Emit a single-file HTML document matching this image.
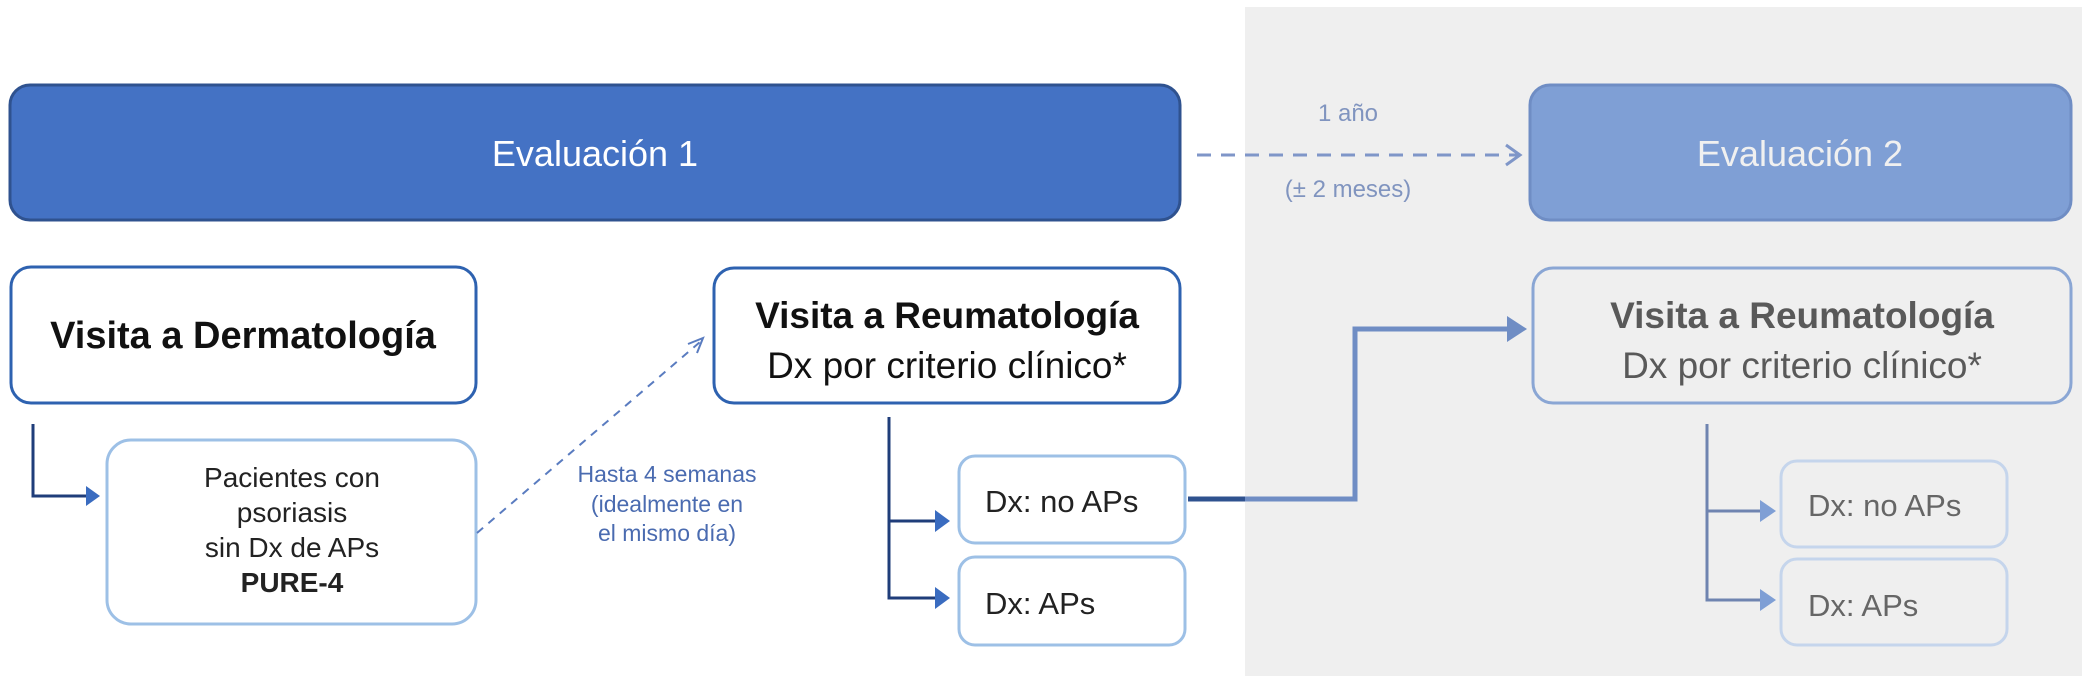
<!DOCTYPE html>
<html><head><meta charset="utf-8"><style>
html,body{margin:0;padding:0;background:#fff}
svg{display:block}
text{font-family:"Liberation Sans",sans-serif}
</style></head><body>
<svg width="2091" height="681" viewBox="0 0 2091 681" xmlns="http://www.w3.org/2000/svg">
<rect x="1245" y="7" width="837" height="669" fill="#efefef"/>
<rect x="10" y="85" width="1170" height="135" rx="20" fill="#4472c4" stroke="#2f528f" stroke-width="3"/>
<text x="595" y="166" font-size="36" fill="#fff" text-anchor="middle">Evaluación 1</text>
<rect x="1530" y="85" width="541" height="135" rx="20" fill="#7f9fd5" stroke="#6f8dc4" stroke-width="3"/>
<text x="1800" y="166" font-size="36" fill="#f0f0f0" text-anchor="middle">Evaluación 2</text>
<line x1="1197" y1="155" x2="1518" y2="155" stroke="#7f96c8" stroke-width="3" stroke-dasharray="14,10"/>
<path d="M1506,145 L1520,155 L1506,165" fill="none" stroke="#7f96c8" stroke-width="3"/>
<text x="1348" y="121" font-size="24" fill="#8094bf" text-anchor="middle">1 año</text>
<text x="1348" y="197" font-size="24" fill="#8094bf" text-anchor="middle">(± 2 meses)</text>
<rect x="11" y="267" width="465" height="136" rx="20" fill="#fff" stroke="#2e62b0" stroke-width="3"/>
<text x="243" y="348" font-size="38" font-weight="bold" fill="#111" text-anchor="middle">Visita a Dermatología</text>
<rect x="107" y="440" width="369" height="184" rx="24" fill="#fff" stroke="#9dc0e6" stroke-width="3"/>
<g font-size="28" fill="#222" text-anchor="middle">
<text x="292" y="487">Pacientes con</text>
<text x="292" y="522">psoriasis</text>
<text x="292" y="557">sin Dx de APs</text>
<text x="292" y="592" font-weight="bold">PURE-4</text>
</g>
<path d="M33,424 V496 H90" fill="none" stroke="#1f3d7a" stroke-width="3"/>
<path d="M86,486 L100,496 L86,506 z" fill="#3a6cc0"/>
<line x1="477" y1="533" x2="700" y2="342" stroke="#5a7cc0" stroke-width="2" stroke-dasharray="8,7"/>
<path d="M688,344 L703,338 L697,353" fill="none" stroke="#5a7cc0" stroke-width="2"/>
<g font-size="23" fill="#4a6bb0" text-anchor="middle">
<text x="667" y="482">Hasta 4 semanas</text>
<text x="667" y="512">(idealmente en</text>
<text x="667" y="541">el mismo día)</text>
</g>
<rect x="714" y="268" width="466" height="135" rx="20" fill="#fff" stroke="#2e62b0" stroke-width="3"/>
<text x="947" y="328" font-size="37" font-weight="bold" fill="#111" text-anchor="middle">Visita a Reumatología</text>
<text x="947" y="378" font-size="37" fill="#111" text-anchor="middle">Dx por criterio clínico*</text>
<path d="M889,417 V598 H940 M889,521 H940" fill="none" stroke="#1f3d7a" stroke-width="3"/>
<path d="M935,510 L950,521 L935,532 z M935,587 L950,598 L935,609 z" fill="#3a6cc0"/>
<rect x="959" y="456" width="226" height="87" rx="16" fill="#fff" stroke="#9dc0e6" stroke-width="3"/>
<text x="985" y="512" font-size="31" fill="#222">Dx: no APs</text>
<rect x="959" y="557" width="226" height="88" rx="16" fill="#fff" stroke="#9dc0e6" stroke-width="3"/>
<text x="985" y="614" font-size="31" fill="#222">Dx: APs</text>
<line x1="1188" y1="499" x2="1245" y2="499" stroke="#2f528f" stroke-width="5"/>
<path d="M1245,499 H1355 V329 H1512" fill="none" stroke="#6f8dc4" stroke-width="5"/>
<path d="M1507,316 L1527,329 L1507,342 z" fill="#6f8dc4"/>
<rect x="1533" y="268" width="538" height="135" rx="20" fill="#efefef" stroke="#8aa6d4" stroke-width="3"/>
<text x="1802" y="328" font-size="37" font-weight="bold" fill="#595959" text-anchor="middle">Visita a Reumatología</text>
<text x="1802" y="378" font-size="37" fill="#595959" text-anchor="middle">Dx por criterio clínico*</text>
<path d="M1707,424 V600 H1765 M1707,511 H1765" fill="none" stroke="#6f84b0" stroke-width="3"/>
<path d="M1760,500 L1776,511 L1760,522 z M1760,589 L1776,600 L1760,611 z" fill="#7f9fd5"/>
<rect x="1781" y="461" width="226" height="86" rx="16" fill="#efefef" stroke="#c5d5ec" stroke-width="3"/>
<text x="1808" y="516" font-size="31" fill="#666">Dx: no APs</text>
<rect x="1781" y="559" width="226" height="86" rx="16" fill="#efefef" stroke="#c5d5ec" stroke-width="3"/>
<text x="1808" y="616" font-size="31" fill="#666">Dx: APs</text>
</svg>
</body></html>
